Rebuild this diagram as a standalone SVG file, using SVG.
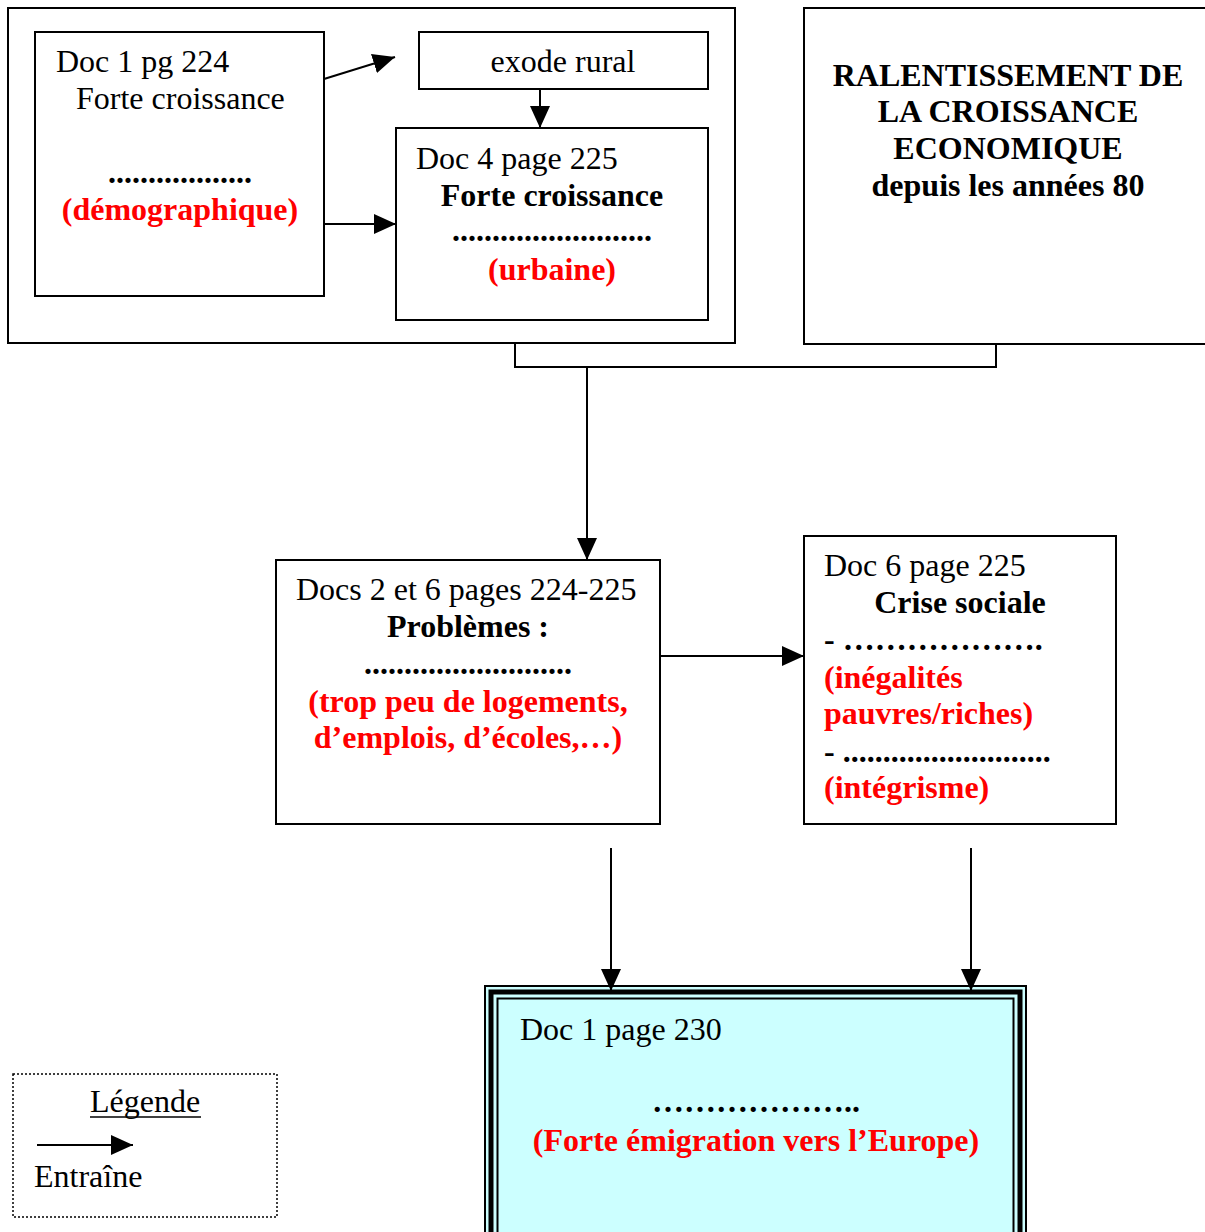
<svg xmlns="http://www.w3.org/2000/svg" width="1205" height="1232" viewBox="0 0 1205 1232">
<style>
text{font-family:"Liberation Serif","Times New Roman",serif;font-size:32px;fill:#000}
.b{font-weight:bold}
.r{fill:#ff0000;font-weight:bold}
.c{text-anchor:middle}
.box{fill:#fff;stroke:#000;stroke-width:2}
.ln{fill:none;stroke:#000;stroke-width:2}
</style>
<defs>
<marker id="ah" markerUnits="userSpaceOnUse" markerWidth="24" markerHeight="20" refX="22" refY="10" orient="auto">
<path d="M0,0 L22,10 L0,20 Z" fill="#000"/>
</marker>
</defs>
<g id="outer-left"><rect class="box" x="8" y="8" width="727" height="335"/></g>
<g id="doc1">
<rect class="box" x="35" y="32" width="289" height="264"/>
<text x="56" y="72">Doc 1 pg 224</text>
<text x="76" y="109">Forte croissance</text>
<text class="b c" x="180" y="183">..................</text>
<text class="r c" x="180" y="220">(démographique)</text>
</g>
<g id="exode">
<rect class="box" x="419" y="32" width="289" height="57"/>
<text class="c" x="563" y="72">exode rural</text>
</g>
<g id="doc4">
<rect class="box" x="396" y="128" width="312" height="192"/>
<text x="416" y="169">Doc 4 page 225</text>
<text class="b c" x="552" y="206">Forte croissance</text>
<text class="b c" x="552" y="241">.........................</text>
<text class="r c" x="552" y="280">(urbaine)</text>
</g>
<g id="ralentissement">
<rect class="box" x="804" y="8" width="410" height="336"/>
<text class="b c" x="1008" y="86">RALENTISSEMENT DE</text>
<text class="b c" x="1008" y="122">LA CROISSANCE</text>
<text class="b c" x="1008" y="159">ECONOMIQUE</text>
<text class="b c" x="1008" y="196">depuis les années 80</text>
</g>
<g id="problemes">
<rect class="box" x="276" y="560" width="384" height="264"/>
<text x="296" y="600">Docs 2 et 6 pages 224-225</text>
<text class="b c" x="468" y="637">Problèmes :</text>
<text class="b c" x="468" y="674">..........................</text>
<text class="r c" x="468" y="712">(trop peu de logements,</text>
<text class="r c" x="468" y="748">d’emplois, d’écoles,…)</text>
</g>
<g id="crise">
<rect class="box" x="804" y="536" width="312" height="288"/>
<text x="824" y="576">Doc 6 page 225</text>
<text class="b c" x="960" y="613">Crise sociale</text>
<text class="b" x="824" y="650">- ……………….</text>
<text class="r" x="824" y="688">(inégalités</text>
<text class="r" x="824" y="724">pauvres/riches)</text>
<text class="b" x="824" y="762">- ..........................</text>
<text class="r" x="824" y="798">(intégrisme)</text>
</g>
<g id="emigration">
<rect x="485" y="986" width="541" height="260" fill="#ccffff" stroke="#000" stroke-width="2"/>
<rect x="491" y="992" width="529" height="248" fill="none" stroke="#000" stroke-width="5"/>
<rect x="497.5" y="998.5" width="516" height="236" fill="none" stroke="#000" stroke-width="2"/>
<text x="520" y="1040">Doc 1 page 230</text>
<text class="b c" x="756" y="1112">………………..</text>
<text class="r c" x="756" y="1151">(Forte émigration vers l’Europe)</text>
</g>
<g id="legende">
<rect x="13" y="1074" width="264" height="143" fill="#fff" stroke="#000" stroke-width="1.5" stroke-dasharray="2,2"/>
<text class="c" x="145" y="1112">Légende</text>
<line x1="90" y1="1117" x2="201" y2="1117" stroke="#000" stroke-width="1.5"/>
<line class="ln" x1="37" y1="1145" x2="133" y2="1145" marker-end="url(#ah)"/>
<text x="34" y="1187">Entraîne</text>
</g>
<g id="connectors">
<line class="ln" x1="324" y1="79" x2="395" y2="57" marker-end="url(#ah)"/>
<line class="ln" x1="324" y1="224" x2="396" y2="224" marker-end="url(#ah)"/>
<line class="ln" x1="540" y1="89" x2="540" y2="128" marker-end="url(#ah)"/>
<polyline class="ln" points="515,343 515,367 996,367 996,344"/>
<line class="ln" x1="587" y1="367" x2="587" y2="560" marker-end="url(#ah)"/>
<line class="ln" x1="660" y1="656" x2="804" y2="656" marker-end="url(#ah)"/>
<line class="ln" x1="611" y1="848" x2="611" y2="991" marker-end="url(#ah)"/>
<line class="ln" x1="971" y1="848" x2="971" y2="991" marker-end="url(#ah)"/>
</g>
</svg>
